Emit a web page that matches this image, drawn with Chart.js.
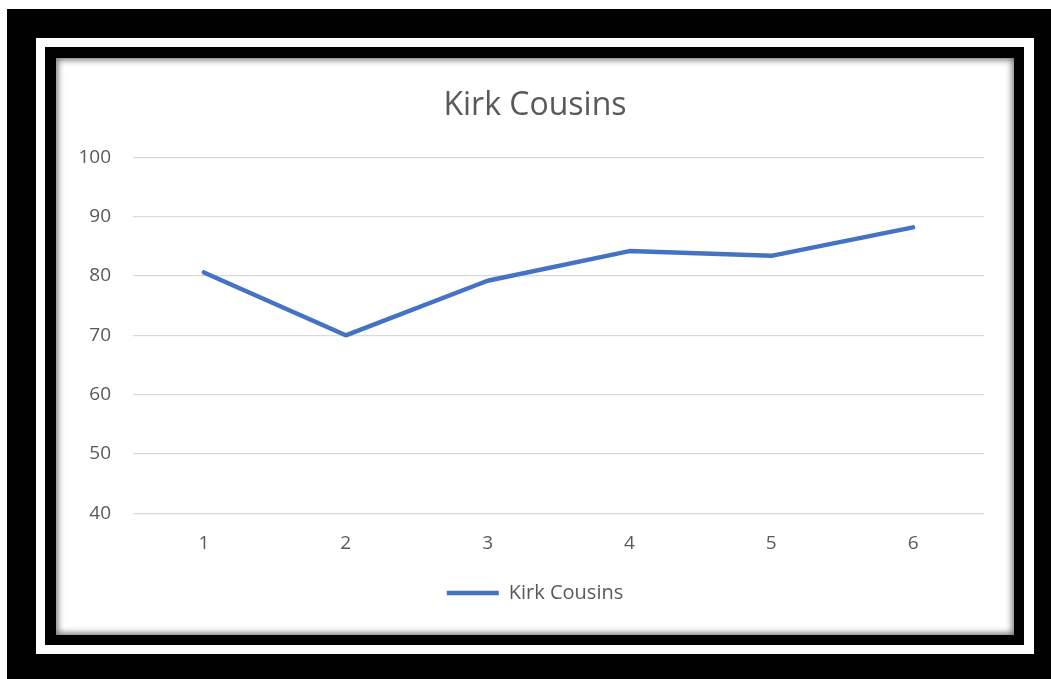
<!DOCTYPE html>
<html>
<head>
<meta charset="utf-8">
<script src="https://cdn.jsdelivr.net/npm/chart.js@4"></script>
<style>
  html, body { margin: 0; padding: 0; background: #fff; }
  body { width: 1051px; height: 679px; position: relative; overflow: hidden; font-family: "Open Sans", sans-serif; }
  .frame { position: absolute; }
  #outer { left: 7px; top: 9px; right: 0; bottom: 0; background: #000; }
  #band { left: 36px; top: 38px; width: 998px; height: 616px; background: #fff; }
  #inner { left: 45px; top: 47px; width: 979px; height: 598px; background: #000; }
  #panel {
    left: 56px; top: 58px; width: 958px; height: 577px; background: #fff;
    box-shadow: inset 0 0 6px 2px rgba(0,0,0,0.55);
  }
  #panel canvas { position: absolute; left: 0; top: 0; }
</style>
</head>
<body>
<div class="frame" id="outer"></div>
<div class="frame" id="band"></div>
<div class="frame" id="inner"></div>
<div class="frame" id="panel"><canvas id="chart" width="958" height="577"></canvas></div>
<script>
const games = ['1', '2', '3', '4', '5', '6'];
const rating = [80.6, 70.0, 79.2, 84.2, 83.4, 88.2];
const yTicks = [40, 50, 60, 70, 80, 90, 100];

const textColor = '#595959';

const ctx = document.getElementById('chart');
new Chart(ctx, {
    type: 'line',
    data: {
        labels: games,
        datasets: [{
            label: 'Kirk Cousins',
            data: rating,
            borderColor: '#4472C4',
            backgroundColor: '#4472C4',
            borderWidth: 4.5,
            borderCapStyle: 'round',
            borderJoinStyle: 'round',
            pointRadius: 0,
            tension: 0,
            fill: false
        }]
    },
    options: {
        responsive: false,
        animation: false,
        layout: { padding: { left: 0, right: 0, top: 29, bottom: 22 } },
        plugins: {
            title: {
                display: true,
                text: 'Kirk Cousins',
                color: textColor,
                font: { family: 'Open Sans', size: 32, weight: 'normal' },
                padding: { top: 0, bottom: 32 }
            },
            legend: {
                position: 'bottom',
                labels: {
                    usePointStyle: true,
                    pointStyle: 'line',
                    pointStyleWidth: 52,
                    color: textColor,
                    font: { family: 'Open Sans', size: 20 },
                    padding: 17
                }
            },
            tooltip: { enabled: false }
        },
        scales: {
            x: {
                offset: true,
                grid: { display: false },
                border: { display: false },
                ticks: {
                    color: textColor,
                    font: { family: 'Open Sans', size: 19 },
                    padding: 11
                }
            },
            y: {
                min: 40,
                max: 100,
                afterFit: (scale) => { scale.width = 77; },
                afterBuildTicks: (scale) => { scale.ticks = yTicks.map(v => ({ value: v })); },
                grid: { color: '#d9d9d9', lineWidth: 1.3, drawTicks: false },
                border: { display: false },
                ticks: {
                    color: textColor,
                    font: { family: 'Open Sans', size: 19 },
                    padding: 22
                }
            },
            // empty right-hand gutter so title and legend stay centred on the whole panel
            gutter: {
                position: 'right',
                display: true,
                afterFit: (scale) => { scale.width = 30; },
                grid: { display: false },
                border: { display: false },
                ticks: { display: false }
            }
        }
    }
});
</script>
</body>
</html>
